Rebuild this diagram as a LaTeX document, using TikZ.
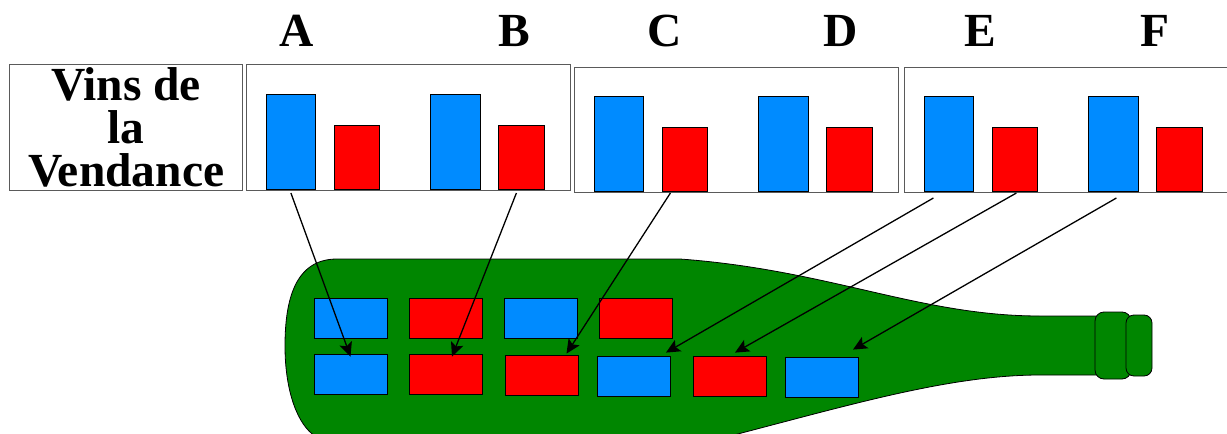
\documentclass[tikz,border=0pt]{standalone}
\usepackage{fontspec}
\setmainfont{Liberation Serif}
\usetikzlibrary{arrows.meta,calc,positioning}
\definecolor{Wine_Blue}{HTML}{008BFF}
\definecolor{Wine_Red}{HTML}{FF0000}
\definecolor{Bottle_Green}{HTML}{008600}
\definecolor{Frame_Gray}{HTML}{5A5A5A}
\newcommand{\headfont}{\fontsize{47.5}{43}\selectfont\bfseries}

\tikzset{
    panel/.style={draw=Frame_Gray, line width=1.2pt, inner sep=0pt, anchor=north west},
    bar/.style={draw=black, line width=0.8pt, inner sep=0pt, anchor=south west},
    cell/.style={draw=black, line width=0.8pt, inner sep=0pt, minimum width=73pt, minimum height=40pt},
    letter/.style={font=\headfont, anchor=base},
    link/.style={->, line width=1.3pt}
}

\begin{document}
\begin{tikzpicture}[x=1pt, y=-1pt, >={Stealth[length=14pt,width=13pt,inset=3pt]}]
    \useasboundingbox (0,0) rectangle (1227,434);

    % Bottle
    \draw[fill=Bottle_Green, line width=0.8pt] (337,259) -- (680,259)
        .. controls (830,270) and (920,316) .. (1040,316) -- (1100,316)
        -- (1100,375) -- (1040,375)
        .. controls (950,375) and (850,405) .. (730,436) -- (315,436)
        .. controls (298,425) and (285,392) .. (285,346)
        .. controls (285,300) and (295,259) .. (337,259) -- cycle;
    \draw[fill=Bottle_Green, line width=0.8pt, rounded corners=9pt] (1095,312) rectangle (1131,379);
    \draw[fill=Bottle_Green, line width=0.8pt, rounded corners=8pt] (1126,315) rectangle (1152,376);

    % Wines in the bottle
    \foreach \n/\x/\y/\c in {w11/350.5/318/Wine_Blue, w12/445.5/318/Wine_Red,
                             w13/540.5/318/Wine_Blue, w14/635.5/318/Wine_Red,
                             w21/350.5/374/Wine_Blue, w22/445.5/374/Wine_Red,
                             w23/541.5/375/Wine_Red, w24/634/376/Wine_Blue,
                             w25/729.5/376/Wine_Red, w26/822/377/Wine_Blue}
        \node[cell, fill=\c] (\n) at (\x,\y) {};

    % Title box
    \node[panel, minimum width=233pt, minimum height=126pt, align=center, font=\headfont]
        (vins) at (9,64) {Vins de\\la\\Vendance};

    % Letters
    \foreach \l/\x in {A/297, B/514, C/665, D/841, E/980, F/1155}
        \node[letter] (lab\l) at (\x,46) {\l};

    % Bar panels
    \foreach \p/\xl/\yt/\h in {AB/246/64/126, CD/574/67/125, EF/904/67/125} {
        \node[panel, minimum width=324pt, minimum height=\h pt] (\p) at (\xl,\yt) {};
        \node[bar, fill=Wine_Blue, minimum width=49pt, minimum height=95pt] (\p1) at (\xl+20,\yt+\h) {};
        \node[bar, fill=Wine_Red, minimum width=45pt, minimum height=64pt] (\p2) at (\xl+88,\yt+\h) {};
        \node[bar, fill=Wine_Blue, minimum width=50pt, minimum height=95pt] (\p3) at (\xl+184,\yt+\h) {};
        \node[bar, fill=Wine_Red, minimum width=46pt, minimum height=64pt] (\p4) at (\xl+252,\yt+\h) {};
    }

    % Arrows
    \draw[link] ([yshift=-3pt]AB1.south) -- ([yshift=-3pt]w21.north);
    \draw[link] ([xshift=-5pt, yshift=-3pt]AB4.south) -- ([xshift=6.5pt, yshift=-3pt]w22.north);
    \draw[link] ([xshift=-14.5pt, yshift=-1pt]CD2.south) -- ([xshift=25pt, yshift=1pt]w23.north);
    \draw[link] ([xshift=-15.5pt, yshift=-6pt]EF1.south) -- ([xshift=32pt, yshift=3pt]w24.north);
    \draw[link] ([xshift=1.5pt, yshift=-1pt]EF2.south) -- ([xshift=5.5pt, yshift=3pt]w25.north);
    \draw[link] ([xshift=3pt, yshift=-6pt]EF3.south) -- ([xshift=31pt, yshift=7pt]w26.north);

\end{tikzpicture}
\end{document}
